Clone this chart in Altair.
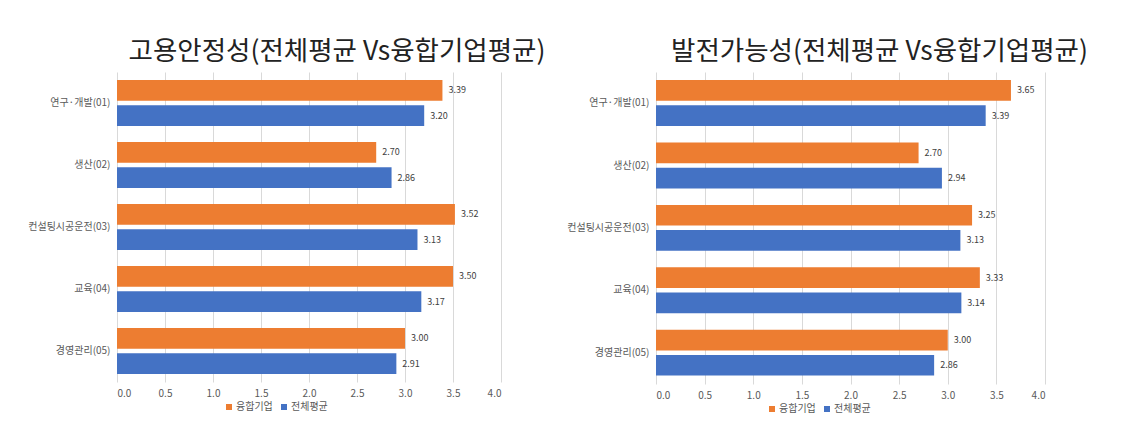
import altair as alt
import pandas as pd

categories = ["연구·개발(01)", "생산(02)", "컨설팅시공운전(03)", "교육(04)", "경영관리(05)"]
series = ["융합기업", "전체평균"]
colors = ["#ED7D31", "#4472C4"]

job_fusion = [3.39, 2.70, 3.52, 3.50, 3.00]
job_total = [3.20, 2.86, 3.13, 3.17, 2.91]
dev_fusion = [3.65, 2.70, 3.25, 3.33, 3.00]
dev_total = [3.39, 2.94, 3.13, 3.14, 2.86]

tick_values = [0.0, 0.5, 1.0, 1.5, 2.0, 2.5, 3.0, 3.5, 4.0]

FONT = "Noto Sans CJK KR"


def make_df(fusion, total):
    rows = []
    for c, f, t in zip(categories, fusion, total):
        rows.append({"category": c, "series": series[0], "value": f})
        rows.append({"category": c, "series": series[1], "value": t})
    return pd.DataFrame(rows)


def make_panel(fusion, total, title, width, height, title_dx, legend_x, legend_y):
    df = make_df(fusion, total)
    base = alt.Chart(df).encode(
        y=alt.Y("category:N", sort=categories,
                scale=alt.Scale(paddingInner=0.26, paddingOuter=0.13),
                axis=alt.Axis(title=None, ticks=False, domain=False, labelPadding=7,
                              labelFontSize=10, labelColor="#595959", labelFont=FONT,
                              grid=False)),
        yOffset=alt.YOffset("series:N", sort=series, scale=alt.Scale(paddingInner=0.18)),
        x=alt.X("value:Q", scale=alt.Scale(domain=[0, 4], nice=False),
                axis=alt.Axis(values=tick_values, format=".1f", grid=True, gridColor="#D9D9D9",
                              ticks=False, domain=False, labelPadding=6, labelColor="#595959",
                              labelFontSize=10, labelFont=FONT, title=None)),
    )
    bars = base.mark_bar().encode(
        color=alt.Color("series:N", sort=series,
                        scale=alt.Scale(domain=series, range=colors),
                        legend=alt.Legend(orient="none", legendX=legend_x, legendY=legend_y,
                                          direction="horizontal", title=None, symbolType="square",
                                          symbolSize=36, labelFontSize=10, labelColor="#595959",
                                          labelFont=FONT, columnPadding=6, labelOffset=2))
    )
    labels = base.mark_text(align="left", baseline="middle", dx=6, fontSize=9,
                            color="#404040", font=FONT).encode(
        text=alt.Text("value:Q", format=".2f")
    )
    return alt.layer(bars, labels).properties(
        width=width, height=height,
        title=alt.TitleParams(title, fontSize=26.5, font=FONT, fontWeight="normal",
                              color="#222222", dx=title_dx, offset=7, anchor="middle"),
    )


left = make_panel(job_fusion, job_total, "고용안정성(전체평균 Vs융합기업평균)", 384, 310, 28, 107, 330)
right = make_panel(dev_fusion, dev_total, "발전가능성(전체평균 Vs융합기업평균)", 389, 312, 29, 111, 332)

chart = alt.hconcat(left, right, spacing=155, bounds="flush").resolve_scale(
    color="independent"
).resolve_legend(color="independent").properties(
    padding={"left": 19, "top": 30, "right": 5, "bottom": 5},
    background="white",
).configure_view(stroke=None)

chart.save("out.html", embed_options={"renderer": "svg", "actions": False})
